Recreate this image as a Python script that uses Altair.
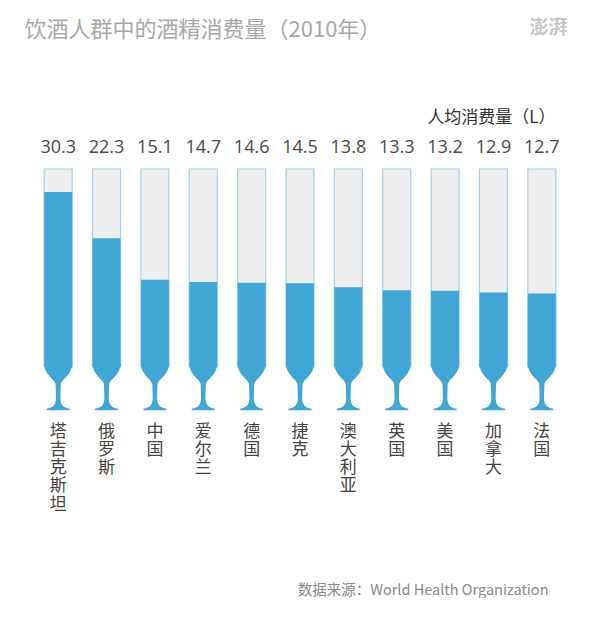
import altair as alt
import pandas as pd

countries = ["塔吉克斯坦", "俄罗斯", "中国", "爱尔兰", "德国", "捷克", "澳大利亚", "英国", "美国", "加拿大", "法国"]
values = [30.3, 22.3, 15.1, 14.7, 14.6, 14.5, 13.8, 13.3, 13.2, 12.9, 12.7]

TITLE = "饮酒人群中的酒精消费量（2010年）"
SUBTITLE = "人均消费量（L）"
SOURCE = "数据来源：World Health Organization"
LOGO = "澎湃"

CAP = 34.3       # glass capacity (top of the glass)
FONT = "Noto Sans CJK SC"
BLUE = "#3fa6d5"
GLASS = "#eeeeee"
EDGE = "#a3d0e5"

df = pd.DataFrame({"country": countries, "value": values})

# stem + foot of the glass, drawn in pixels around the value-0 point, scaled to symbol units
R = 48.0
cmds = [
    ("M", [(-14, -3)]), ("L", [(14, -3)]),
    ("C", [(14, 8), (4, 12), (2.6, 17)]), ("L", [(2.2, 31)]),
    ("C", [(2.2, 38), (5, 41), (11.5, 42)]), ("L", [(11.5, 43.5)]),
    ("L", [(-11.5, 43.5)]), ("L", [(-11.5, 42)]),
    ("C", [(-5, 41), (-2.2, 38), (-2.2, 31)]), ("L", [(-2.6, 17)]),
    ("C", [(-4, 12), (-14, 8), (-14, -3)]),
]
stem_path = " ".join(
    c + " " + " ".join(f"{x / R:.4f} {y / R:.4f}" for x, y in pts) for c, pts in cmds
) + " Z"

xs = alt.Scale(domain=countries, paddingInner=0, paddingOuter=0)
ys = alt.Scale(domain=[-8, CAP], nice=False, zero=False)

base = alt.Chart(df)

glass = base.mark_bar(width=28, color=GLASS, stroke=EDGE, strokeWidth=1.2).encode(
    x=alt.X("country:N", scale=xs, sort=countries, axis=alt.Axis(
        orient="bottom", domain=False, ticks=False, grid=False, labelAngle=0,
        labelExpr="split(datum.label, '')", labelBaseline="top",
        labelPadding=10, labelFontSize=17, labelLineHeight=18.3,
        labelColor="#444444", labelFont=FONT, labelOverlap=False,
        title=SOURCE, titleX=514, titleY=177, titleAlign="right",
        titleBaseline="middle", titleFontSize=14.5, titleFontWeight="normal",
        titleColor="#8a8a8a", titleFont=FONT)),
    y=alt.Y("cap:Q", scale=ys, axis=alt.Axis(
        orient="right", domain=False, ticks=False, labels=False, grid=False,
        title=SUBTITLE, titleAngle=0, titleX=-11, titleY=-52, titleAlign="right",
        titleBaseline="middle", titleFontSize=17, titleFontWeight="normal",
        titleColor="#333333", titleFont=FONT)),
    y2=alt.Y2("zero:Q"),
).transform_calculate(cap=str(CAP), zero="0")

fill = base.mark_bar(width=28, color=BLUE).encode(
    x=alt.X("country:N", scale=xs, sort=countries, axis=None),
    y=alt.Y("value:Q", scale=ys, axis=None),
    y2=alt.Y2("zero:Q"),
).transform_calculate(zero="0")

stem = base.mark_point(shape=stem_path, filled=True, size=(2 * R) ** 2,
                       color=BLUE, opacity=1, strokeWidth=0).encode(
    x=alt.X("country:N", scale=xs, sort=countries, axis=None),
    y=alt.Y("zero:Q", scale=ys, axis=None),
).transform_calculate(zero="0")

labels = base.mark_text(dy=-21, baseline="middle", fontSize=18, font="Open Sans",
                        color="#4a4a4a").encode(
    x=alt.X("country:N", scale=xs, sort=countries, axis=alt.Axis(
        orient="top", domain=False, ticks=False, labels=False, grid=False,
        title=TITLE, titleX=-10, titleY=-140, titleAlign="left",
        titleBaseline="middle", titleFontSize=22, titleFontWeight="normal",
        titleColor="#a8a8a8", titleFont=FONT)),
    y=alt.Y("cap:Q", scale=ys, axis=alt.Axis(
        orient="left", domain=False, ticks=False, labels=False, grid=False,
        title=LOGO, titleAngle=0, titleX=533, titleY=-142, titleAlign="right",
        titleBaseline="middle", titleFontSize=19, titleFontWeight="bold",
        titleColor="#c4c4c4", titleFont=FONT)),
    text=alt.Text("value:Q", format=".1f"),
).transform_calculate(cap=str(CAP))

chart = alt.layer(glass, fill, stem, labels).resolve_axis(
    x="independent", y="independent"
).properties(
    width=532, height=244,
    background="white",
    autosize=alt.AutoSizeParams(type="none"),
    padding={"left": 26, "top": 161, "right": 26, "bottom": 185},
).configure_view(strokeWidth=0, stroke="transparent")

chart.save("out.html", embed_options={"renderer": "svg", "actions": False})
